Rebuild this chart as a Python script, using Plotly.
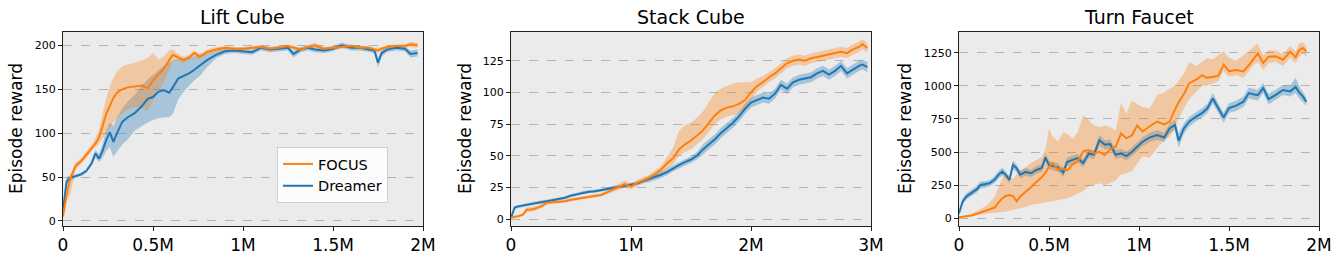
import plotly.graph_objects as go

# ---------------- data (x in millions of env steps) ----------------
lift_x = [0, 0.02, 0.04, 0.07, 0.1, 0.13, 0.16, 0.18, 0.2, 0.22, 0.24, 0.26, 0.28, 0.3, 0.33, 0.36, 0.4, 0.44, 0.47, 0.5,
          0.53, 0.56, 0.59, 0.61, 0.64, 0.67, 0.7, 0.73, 0.76, 0.8, 0.85, 0.9, 0.95, 1.0, 1.05, 1.1, 1.15, 1.2, 1.25, 1.28,
          1.32, 1.36, 1.4, 1.45, 1.5, 1.55, 1.6, 1.65, 1.7, 1.73, 1.75, 1.77, 1.8, 1.85, 1.9, 1.93, 1.97]
lift_focus = [5, 30, 48, 63, 68, 75, 83, 88, 95, 108, 122, 131, 140, 146, 150, 152, 153, 154, 151, 160,
              167, 173, 183, 189, 186, 183, 186, 191, 187, 192, 195, 197, 196, 196, 197, 198, 196, 197, 199, 197,
              195, 198, 200, 196, 197, 198, 199, 197, 197, 195, 194, 196, 198, 199, 199, 201, 200]
lift_focus_lo = [3, 22, 30, 58, 65, 72, 80, 84, 88, 95, 100, 106, 112, 117, 122, 127, 130, 128, 126, 137,
                 148, 158, 172, 182, 182, 180, 183, 187, 184, 189, 192, 194, 194, 194, 195, 196, 194, 195, 197, 195,
                 193, 196, 197, 194, 195, 196, 197, 195, 195, 193, 191, 194, 196, 197, 197, 198, 197]
lift_focus_hi = [8, 36, 52, 66, 71, 79, 87, 94, 104, 122, 140, 153, 163, 170, 176, 178, 180, 183, 185, 191,
                 184, 187, 194, 195, 190, 187, 189, 194, 190, 195, 198, 199, 198, 198, 199, 200, 198, 199, 201, 199,
                 197, 200, 203, 198, 199, 200, 201, 199, 199, 197, 197, 198, 200, 201, 201, 204, 203]
lift_dreamer = [12, 45, 49, 51, 53, 57, 66, 77, 71, 80, 92, 101, 90, 100, 113, 118, 123, 131, 139, 141,
                147, 149, 146, 152, 162, 165, 168, 172, 177, 183, 189, 193, 194, 193, 192, 197, 195, 196, 197, 190,
                195, 197, 195, 194, 196, 200, 197, 197, 195, 194, 180, 191, 195, 197, 196, 190, 191]
lift_dreamer_lo = [8, 40, 46, 49, 51, 55, 63, 72, 67, 72, 80, 84, 73, 79, 87, 93, 103, 108, 112, 115,
                   117, 118, 118, 122, 138, 147, 153, 160, 165, 175, 185, 190, 191, 190, 189, 194, 192, 193, 194, 186,
                   192, 194, 192, 191, 193, 197, 194, 194, 192, 191, 174, 187, 192, 194, 193, 186, 187]
lift_dreamer_hi = [16, 50, 52, 53, 55, 59, 69, 81, 76, 88, 103, 112, 108, 118, 128, 136, 144, 155, 161, 166,
                   172, 177, 180, 183, 184, 185, 186, 187, 189, 190, 193, 196, 197, 196, 195, 200, 198, 199, 200, 194,
                   198, 200, 198, 197, 199, 203, 200, 200, 198, 197, 185, 195, 198, 200, 199, 194, 195]

stack_x = [0, 0.03, 0.06, 0.1, 0.13, 0.17, 0.2, 0.25, 0.3, 0.35, 0.4, 0.45, 0.5, 0.55, 0.6, 0.65, 0.7, 0.75, 0.8, 0.85,
           0.9, 0.95, 1.0, 1.05, 1.1, 1.15, 1.2, 1.25, 1.3, 1.35, 1.4, 1.45, 1.5, 1.55, 1.6, 1.65, 1.7, 1.75, 1.8, 1.85,
           1.9, 1.95, 2.0, 2.05, 2.1, 2.15, 2.2, 2.25, 2.3, 2.35, 2.4, 2.45, 2.5, 2.55, 2.6, 2.65, 2.7, 2.75, 2.8, 2.85,
           2.9, 2.93, 2.97]
stack_focus = [1.3, 1.8, 2.2, 3.5, 7.4, 7.6, 8.2, 10, 12.8, 13.2, 13.5, 14, 15.2, 16, 17, 17.8, 18.5, 19, 21, 23.5,
               25.5, 27.5, 25.5, 28.5, 30.5, 32.5, 35.5, 39, 44, 48, 55, 59, 62, 66, 70, 76, 82, 86, 88, 89,
               91, 94, 100, 105, 108, 112, 115, 119, 123, 125, 126, 125, 127, 128, 129, 130, 131, 132, 131, 134,
               136, 138, 135]
stack_focus_lo = [0.5, 1.0, 1.4, 2.5, 5.5, 5.8, 6.4, 8.5, 11.5, 12, 12.3, 12.8, 14, 14.8, 15.8, 16.5, 17.2, 17.7, 19.5, 21.5,
                  23, 25, 23.5, 26, 28, 30, 32.5, 35.5, 39.5, 43, 50, 53, 55, 59, 63, 69, 75, 79, 81, 82,
                  84, 87, 94, 101, 104, 108, 111, 115, 119, 121, 122, 121, 123, 124, 125, 126, 127, 128, 127, 130,
                  132, 134, 131]
stack_focus_hi = [2.1, 2.6, 3.0, 4.5, 9.3, 9.6, 10.2, 11.5, 14.1, 14.4, 14.7, 15.2, 16.4, 17.2, 18.2, 19.1, 19.8, 20.3, 22.5, 25.5,
                  28, 30.5, 28, 31, 33, 35, 38.5, 42, 49, 56, 70, 74, 76, 80, 85, 92, 100, 103, 105, 107,
                  108, 108, 108, 111, 113, 116, 119, 123, 127, 129, 130, 129, 131, 132, 133, 134, 135, 136, 135, 138,
                  140, 142, 139]
stack_dreamer = [1, 9, 10, 10.8, 11.2, 12, 12.6, 13.3, 14, 15, 15.8, 16.8, 18.5, 19.5, 21, 21.5, 22, 22.8, 23.8, 25,
                 25.5, 26.5, 27, 28, 30, 31.5, 33, 35, 37, 40, 42.5, 45, 47, 50, 55, 59, 63, 68, 72, 76,
                 81, 87, 92, 94, 96, 95, 99, 106, 103, 108, 110, 111, 112, 115, 117, 114, 117, 121, 115, 118,
                 121, 122, 120]
stack_dreamer_lo = [0, 8, 9, 9.6, 10, 10.8, 11.4, 12.1, 12.8, 13.8, 14.6, 15.6, 17.3, 18.3, 19.8, 20.3, 20.8, 21.6, 22.6, 23.8,
                    24.3, 25.3, 25.8, 26.6, 28.5, 29, 30.5, 32.5, 34.5, 37.5, 40, 42.5, 44.5, 47, 51, 55, 59, 64, 68, 72,
                    77, 83, 88, 90, 92, 91, 95, 102, 99, 104, 106, 107, 108, 111, 113, 110, 113, 117, 111, 114,
                    117, 118, 116]
stack_dreamer_hi = [2, 10, 11, 12, 12.4, 13.2, 13.8, 14.5, 15.2, 16.2, 17, 18, 19.7, 20.7, 22.2, 22.7, 23.2, 24, 25, 26.2,
                    26.7, 27.7, 28.2, 29.4, 31.5, 34, 35.5, 37.5, 39.5, 42.5, 45, 47.5, 49.5, 53, 59, 63, 67, 72, 76, 80,
                    85, 91, 96, 98, 100, 99, 103, 110, 107, 112, 114, 115, 116, 119, 121, 118, 121, 125, 119, 122,
                    125, 126, 124]

faucet_x = [0, 0.02, 0.04, 0.07, 0.1, 0.12, 0.15, 0.17, 0.2, 0.22, 0.24, 0.26, 0.28, 0.3, 0.32, 0.34, 0.37, 0.4, 0.43, 0.46,
            0.48, 0.5, 0.52, 0.55, 0.58, 0.6, 0.63, 0.66, 0.69, 0.72, 0.75, 0.78, 0.81, 0.84, 0.87, 0.9, 0.93, 0.96, 0.99, 1.02,
            1.06, 1.1, 1.14, 1.17, 1.2, 1.22, 1.25, 1.28, 1.32, 1.35, 1.38, 1.41, 1.44, 1.47, 1.5, 1.54, 1.58, 1.61, 1.64, 1.66,
            1.69, 1.72, 1.76, 1.8, 1.84, 1.87, 1.89, 1.91, 1.93]
faucet_focus = [8, 12, 15, 22, 35, 45, 55, 65, 82, 120, 150, 168, 175, 168, 128, 165, 198, 235, 275, 310,
                345, 390, 415, 368, 375, 360, 405, 430, 505, 515, 490, 502, 478, 520, 540, 640, 605, 625, 700, 655,
                695, 730, 708, 730, 820, 875, 940, 1020, 1048, 1080, 1060, 1065, 1075, 1160, 1110, 1120, 1108, 1155, 1210, 1245,
                1172, 1220, 1222, 1197, 1258, 1215, 1270, 1285, 1260]
faucet_focus_lo = [5, 8, 10, 14, 25, 30, 36, 40, 44, 46, 48, 52, 55, 60, 68, 75, 85, 100, 108, 113,
                   120, 126, 132, 139, 145, 150, 164, 185, 205, 240, 255, 265, 250, 270, 285, 330, 340, 355, 410, 470,
                   455, 530, 590, 615, 690, 740, 830, 900, 960, 1000, 1000, 1020, 1030, 1110, 1070, 1080, 1060, 1110, 1160, 1180,
                   1120, 1170, 1180, 1150, 1210, 1170, 1220, 1240, 1220]
faucet_focus_hi = [12, 16, 22, 35, 55, 70, 95, 120, 170, 240, 300, 330, 310, 300, 330, 360, 385, 420, 440, 465,
                   520, 680, 620, 580, 650, 640, 600, 650, 780, 740, 700, 690, 700, 690, 660, 870, 790, 890, 860, 840,
                   830, 930, 950, 980, 1000, 1040, 1090, 1180, 1150, 1180, 1210, 1200, 1230, 1260, 1210, 1190, 1230, 1260, 1300, 1320,
                   1230, 1270, 1265, 1240, 1300, 1260, 1320, 1330, 1300]
faucet_dreamer = [38, 126, 164, 190, 220, 252, 257, 265, 295, 330, 352, 328, 290, 403, 378, 330, 350, 340, 365, 380,
                  460, 403, 395, 385, 345, 425, 441, 454, 416, 488, 480, 590, 555, 560, 480, 491, 470, 500, 540, 578,
                  610, 628, 610, 678, 705, 585, 680, 731, 770, 794, 830, 905, 832, 760, 832, 850, 880, 945, 935, 930,
                  983, 900, 932, 968, 958, 992, 950, 920, 880]
faucet_dreamer_lo = [20, 100, 140, 165, 195, 225, 232, 240, 268, 302, 322, 300, 262, 370, 348, 300, 320, 312, 336, 350,
                     428, 372, 362, 352, 310, 392, 410, 422, 384, 455, 446, 550, 520, 525, 445, 458, 436, 466, 506, 544,
                     575, 592, 575, 640, 665, 530, 640, 695, 735, 758, 795, 865, 795, 722, 795, 812, 840, 905, 895, 890,
                     945, 860, 895, 930, 920, 945, 905, 880, 850]
faucet_dreamer_hi = [55, 150, 188, 215, 245, 280, 282, 290, 322, 358, 382, 356, 318, 436, 408, 360, 380, 368, 394, 410,
                     492, 434, 428, 418, 380, 458, 472, 486, 448, 520, 514, 628, 590, 595, 515, 524, 504, 534, 574, 612,
                     645, 664, 645, 716, 745, 640, 720, 767, 805, 830, 865, 945, 869, 798, 869, 888, 920, 985, 975, 970,
                     1021, 940, 970, 1006, 1000, 1060, 1000, 960, 910]

titles = ["Lift Cube", "Stack Cube", "Turn Faucet"]
y_label = "Episode reward"
series_names = ["FOCUS", "Dreamer"]

x_ticks_2m = [0, 0.5, 1, 1.5, 2]
x_ticklabels_2m = ["0", "0.5M", "1M", "1.5M", "2M"]
x_ticks_3m = [0, 1, 2, 3]
x_ticklabels_3m = ["0", "1M", "2M", "3M"]
y_ticks = [[0, 50, 100, 150, 200], [0, 25, 50, 75, 100, 125], [0, 250, 500, 750, 1000, 1250]]

# ---------------- styling ----------------
ORANGE = "#ff7f0e"
BLUE = "#1f77b4"
ORANGE_FILL = "rgba(255,127,14,0.33)"
BLUE_FILL = "rgba(31,119,180,0.33)"
FONT = "DejaVu Sans"
W, H = 1341, 261

panels = [
    dict(x=lift_x, f=lift_focus, flo=lift_focus_lo, fhi=lift_focus_hi,
         d=lift_dreamer, dlo=lift_dreamer_lo, dhi=lift_dreamer_hi,
         px=(63, 423), xr=[0, 2], yr=[-5.7, 215], xt=x_ticks_2m, xtl=x_ticklabels_2m, lab_x=16),
    dict(x=stack_x, f=stack_focus, flo=stack_focus_lo, fhi=stack_focus_hi,
         d=stack_dreamer, dlo=stack_dreamer_lo, dhi=stack_dreamer_hi,
         px=(511, 871), xr=[0, 3], yr=[-5.5, 147.7], xt=x_ticks_3m, xtl=x_ticklabels_3m, lab_x=465),
    dict(x=faucet_x, f=faucet_focus, flo=faucet_focus_lo, fhi=faucet_focus_hi,
         d=faucet_dreamer, dlo=faucet_dreamer_lo, dhi=faucet_dreamer_hi,
         px=(959, 1319), xr=[0, 2], yr=[-58, 1406], xt=x_ticks_2m, xtl=x_ticklabels_2m, lab_x=905),
]

fig = go.Figure()
annotations = []
ydom = [1 - 226 / H, 1 - 32 / H]

for i, p in enumerate(panels):
    sfx = "" if i == 0 else str(i + 1)
    xa, ya = "x" + sfx, "y" + sfx
    x = p["x"]
    # bands
    for lo, hi, col in ((p["dlo"], p["dhi"], BLUE_FILL), (p["flo"], p["fhi"], ORANGE_FILL)):
        fig.add_trace(go.Scatter(x=list(x) + list(x)[::-1], y=list(hi) + list(lo)[::-1],
                                 fill="toself", fillcolor=col, line=dict(width=0),
                                 mode="lines", showlegend=False, hoverinfo="skip",
                                 xaxis=xa, yaxis=ya))
    # mean lines
    fig.add_trace(go.Scatter(x=x, y=p["d"], mode="lines", line=dict(color=BLUE, width=2),
                             name=series_names[1], showlegend=False, xaxis=xa, yaxis=ya))
    fig.add_trace(go.Scatter(x=x, y=p["f"], mode="lines", line=dict(color=ORANGE, width=2),
                             name=series_names[0], showlegend=False, xaxis=xa, yaxis=ya))

    dom = [p["px"][0] / W, p["px"][1] / W]
    fig.layout["xaxis" + sfx] = dict(
        domain=dom, range=p["xr"], anchor=ya, tickvals=p["xt"], ticktext=p["xtl"], automargin=False,
        showgrid=False, zeroline=False, showline=True, mirror=True, linecolor="#222", linewidth=1,
        ticks="outside", ticklen=4, tickcolor="#222", tickfont=dict(size=17, color="black", family=FONT))
    fig.layout["yaxis" + sfx] = dict(
        domain=ydom, range=p["yr"], anchor=xa, tickvals=y_ticks[i], automargin=False,
        showgrid=True, gridcolor="#b4b4b4", griddash="dash", gridwidth=1,
        zeroline=False, showline=True, mirror=True, linecolor="#222", linewidth=1,
        ticks="outside", ticklen=4, tickcolor="#222", tickfont=dict(size=11, color="black", family=FONT))
    annotations.append(dict(text=titles[i], x=(dom[0] + dom[1]) / 2, y=1 - 17 / H, xref="paper", yref="paper",
                            xanchor="center", yanchor="middle", showarrow=False,
                            font=dict(size=19, color="black", family=FONT)))
    annotations.append(dict(text=y_label, x=p["lab_x"] / W, y=1 - 129 / H, xref="paper", yref="paper",
                            xanchor="center", yanchor="middle", showarrow=False, textangle=-90,
                            font=dict(size=17, color="black", family=FONT)))

# legend entries (Lift Cube panel)
fig.add_trace(go.Scatter(x=[None], y=[None], mode="lines", line=dict(color=ORANGE, width=2),
                         name=series_names[0], showlegend=True, xaxis="x", yaxis="y"))
fig.add_trace(go.Scatter(x=[None], y=[None], mode="lines", line=dict(color=BLUE, width=2),
                         name=series_names[1], showlegend=True, xaxis="x", yaxis="y"))

fig.update_layout(
    width=W, height=H, margin=dict(l=0, r=0, t=0, b=0, autoexpand=False),
    paper_bgcolor="white", plot_bgcolor="#ebebeb",
    font=dict(family=FONT, color="black"),
    annotations=annotations,
    legend=dict(x=277 / W, y=1 - 147 / H, xanchor="left", yanchor="top",
                bgcolor="rgba(255,255,255,0.85)", bordercolor="#d0d0d0", borderwidth=1,
                font=dict(size=14.5, family=FONT, color="black"), tracegroupgap=0),
    hovermode=False,
)

fig.write_html("out.html", config={"displayModeBar": False},
               post_script="document.body.style.margin='0px';document.body.style.overflow='hidden';")
